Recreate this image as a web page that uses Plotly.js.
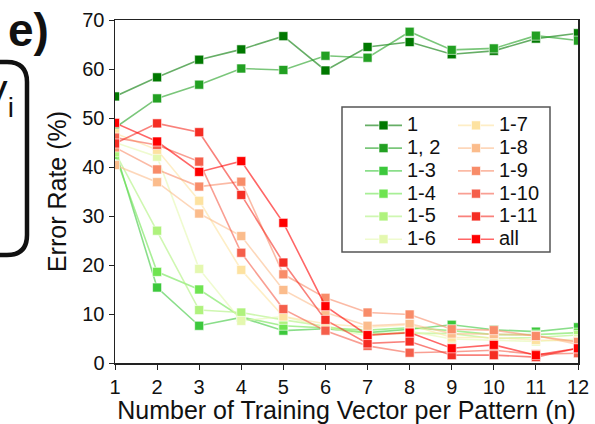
<!DOCTYPE html>
<html><head><meta charset="utf-8">
<script src="https://cdn.plot.ly/plotly-3.0.1.min.js"></script>
<style>html,body{margin:0;padding:0;background:#fff}#chart{width:595px;height:424px}</style>
</head><body><div id="chart"></div>
<script>
const n = [1,2,3,4,5,6,7,8,9,10,11,12];
const seriesNames = ["1","1, 2","1-3","1-4","1-5","1-6","1-7","1-8","1-9","1-10","1-11","all"];
const s1    = [54.4,58.3,61.9,64.0,66.7,59.7,64.5,65.5,63.0,63.7,66.2,67.3];
const s12   = [48.0,54.0,56.8,60.1,59.8,62.7,62.3,67.6,63.9,64.2,66.8,65.8];
const s1_3  = [43.5,15.4,7.6,9.3,6.6,7.0,6.2,6.9,7.8,6.8,6.4,7.3];
const s1_4  = [42.5,18.6,15.0,9.4,7.6,7.1,6.7,7.2,6.6,5.8,5.8,6.2];
const s1_5  = [43.0,27.0,10.8,10.3,8.8,7.5,6.0,6.1,6.0,5.0,5.2,5.7];
const s1_6  = [45.0,42.1,19.2,8.6,9.5,7.3,5.5,6.5,4.9,4.6,4.4,4.9];
const s1_7  = [46.9,43.5,33.1,19.0,9.5,8.0,7.3,7.8,5.2,5.2,4.7,4.5];
const s1_8  = [40.4,36.9,30.5,25.9,14.9,10.3,7.6,8.0,6.0,5.9,5.6,3.8];
const s1_9  = [44.0,39.5,36.0,37.0,18.1,13.3,10.3,9.9,6.9,6.7,5.5,4.3];
const s1_10 = [46.0,44.5,41.1,22.5,11.0,6.6,3.5,2.1,2.3,2.6,1.8,2.0];
const s1_11 = [44.8,48.9,47.1,34.3,20.5,8.8,4.0,4.4,1.6,1.6,1.2,3.0];
const sAll  = [49.0,45.2,39.0,41.2,28.6,11.6,5.7,6.2,3.0,3.7,1.6,3.0];
const seriesValues = [s1,s12,s1_3,s1_4,s1_5,s1_6,s1_7,s1_8,s1_9,s1_10,s1_11,sAll];
const colors = [[0,120,0],[34,160,34],[60,200,60],[110,228,80],[175,242,125],[228,248,175],
                [253,226,160],[251,188,140],[248,140,105],[245,95,75],[245,45,35],[255,0,0]];

const traces = seriesNames.map((name,i)=>{
  const c = colors[i];
  return {
    x: n, y: seriesValues[i], name: '<span style="font-size:20px">' + name + '</span>',
    type:'scatter', mode:'lines+markers',
    legend: i < 6 ? 'legend' : 'legend2',
    line: {color:`rgba(${c[0]},${c[1]},${c[2]},0.6)`, width:1.6},
    marker: {symbol:'square', size:9, color:`rgb(${c[0]},${c[1]},${c[2]})`,
             line:{color:'rgba(255,255,255,0.6)', width:1}},
    cliponaxis: true
  };
});

const W = 463, H = 343, L = 115, T = 20;
const px = p => (p - L)/W;
const py = p => (T + H - p)/H;

const layout = {
  width:595, height:424,
  margin:{l:115, r:17, t:20, b:61},
  paper_bgcolor:'#fff', plot_bgcolor:'#fff',
  font:{family:'Liberation Sans, Arial, sans-serif', color:'#111', size:17},
  showlegend:true,
  xaxis:{range:[1,12], dtick:1, tick0:1, showgrid:false, zeroline:false,
    showline:true, linecolor:'#222', linewidth:1.5, mirror:true,
    ticks:'outside', ticklen:5, tickcolor:'#222', tickfont:{size:20},
    title:{text:'Number of Training Vector per Pattern (n)', font:{size:25}, standoff:5}},
  yaxis:{range:[0,70], dtick:10, showgrid:false, zeroline:false,
    showline:true, linecolor:'#222', linewidth:1.5, mirror:true,
    ticks:'outside', ticklen:5, tickcolor:'#222', tickfont:{size:20},
    title:{text:'Error Rate (%)', font:{size:25}, standoff:8}},
  legend:{x:px(360), y:py(109), xanchor:'left', yanchor:'top', bgcolor:'rgba(0,0,0,0)',
    borderwidth:0, font:{size:15.2}, tracegroupgap:0, itemwidth:37},
  legend2:{x:px(453), y:py(109), xanchor:'left', yanchor:'top', bgcolor:'rgba(0,0,0,0)',
    borderwidth:0, font:{size:15.2}, tracegroupgap:0, itemwidth:36},
  shapes:[
    {type:'rect', xref:'paper', yref:'paper', x0:px(342), x1:px(550), y0:py(252), y1:py(107),
     line:{color:'#555', width:1.5}, fillcolor:'rgba(0,0,0,0)'},
    {type:'path', xref:'paper', yref:'paper',
     path:`M ${px(-30)},${py(62)} L ${px(7)},${py(62)} Q ${px(27)},${py(62)} ${px(27)},${py(82)} L ${px(27)},${py(235)} Q ${px(27)},${py(255)} ${px(7)},${py(255)} L ${px(-30)},${py(255)}`,
     line:{color:'#111', width:4.5}}
  ],
  annotations:[
    {text:'<b>e)</b>', xref:'paper', yref:'paper', x:px(6), y:py(30), xanchor:'left', yanchor:'middle',
     showarrow:false, font:{size:46, color:'#111'}},
    {text:'V<sub>i</sub>', xref:'paper', yref:'paper', x:px(16), y:py(98), xanchor:'right', yanchor:'middle',
     showarrow:false, font:{size:40, color:'#111'}}
  ]
};
Plotly.newPlot('chart', traces, layout, {displayModeBar:false, staticPlot:true});
</script></body></html>
